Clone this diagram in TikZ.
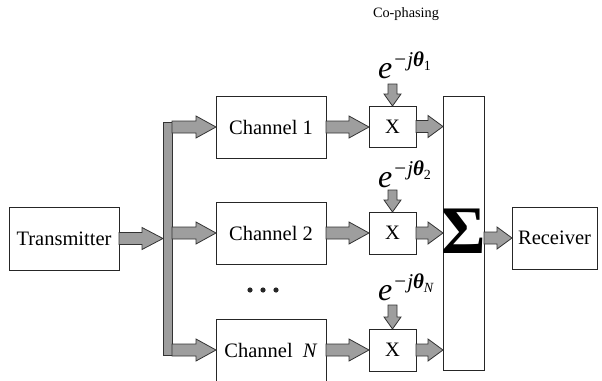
\documentclass[tikz,border=0pt]{standalone}
\usepackage{fontspec}
\setmainfont{Liberation Serif}
\usetikzlibrary{calc}
\newcommand\harr[3][20pt]{\draw[fatarr] let \p1=(#2), \p2=(#3) in (\x1,\y1+6pt) -- (\x2-#1,\y1+6pt) -- (\x2-#1,\y1+11pt) -- (\x2,\y1) -- (\x2-#1,\y1-11pt) -- (\x2-#1,\y1-6pt) -- (\x1,\y1-6pt) -- cycle;}
\newcommand\varr[2]{\draw[fatarr] let \p1=(#1), \p2=(#2) in (\x2-4.5pt,\y1) -- (\x2-4.5pt,\y2+12pt) -- (\x2-8.5pt,\y2+12pt) -- (\x2,\y2) -- (\x2+8.5pt,\y2+12pt) -- (\x2+4.5pt,\y2+12pt) -- (\x2+4.5pt,\y1) -- cycle;}
\newcommand\expo[1]{\fontsize{32}{32}\selectfont\textit{e}\kern2pt\raisebox{12pt}{\fontsize{21}{21}\selectfont −\kern1pt\textit{j}\textbf{\textit{θ}}\raisebox{-4pt}{\fontsize{14}{14}\selectfont #1}}}
\begin{document}
\begin{tikzpicture}[x=1pt,y=-1pt,
  box/.style={draw=black!85, line width=0.8pt, inner sep=0pt, outer sep=0pt, font=\fontsize{20.5}{24}\selectfont},
  fatarr/.style={draw=black!80, fill=black!38, line width=0.8pt, line join=miter},
  lbl/.style={inner sep=0pt, anchor=base west},
]
\useasboundingbox (0,0) rectangle (602,380);
% blocks
\node[box, minimum width=110pt, minimum height=63pt] (tx) at (64,238.5) {Transmitter};
\node[fatarr, inner sep=0pt, outer sep=0pt, minimum width=9pt, minimum height=233pt] (bus) at (167.5,238.5) {};
\node[box, minimum width=110pt, minimum height=62pt] (c1) at (271,127) {Channel 1};
\node[box, minimum width=110pt, minimum height=62pt] (c2) at (271,233) {Channel 2};
\node[box, minimum width=110pt, minimum height=62pt] (cN) at (271,350) {Channel\enspace\textit{N}};
\node[box, minimum width=47pt, minimum height=41pt] (x1) at (392.5,126.5) {X};
\node[box, minimum width=47pt, minimum height=42pt] (x2) at (392.5,233) {X};
\node[box, minimum width=47pt, minimum height=42pt] (xN) at (392.5,350) {X};
\node[box, minimum width=41pt, minimum height=274pt] (sum) at (463.5,233) {};
\node[inner sep=0pt, font=\fontsize{68}{68}\selectfont\bfseries] (sigma) at (463.5,231) {Σ};
\node[box, minimum width=85pt, minimum height=62pt] (rx) at (554.5,238) {Receiver};
% labels
\node[inner sep=0pt, font=\fontsize{14.3}{16}\selectfont] (cop) at (406,14) {Co-phasing};
\node[lbl] (e1) at (378,78) {\expo{1}};
\node[lbl] (e2) at (378,187) {\expo{2}};
\node[lbl] (eN) at (378,300) {\expo{\textit{N}}};
\coordinate (t1) at ($(x1.north)+(0,-22)$);
\coordinate (t2) at ($(x2.north)+(0,-22)$);
\coordinate (tN) at ($(xN.north)+(0,-24)$);
% dots
\foreach \dx in {250,263,276} \fill[black!85] (\dx,290) circle (2.6pt);
% connectors
\harr[21pt]{tx.east}{bus.west |- tx.east}
\harr{bus.east |- c1.west}{c1.west}
\harr{bus.east |- c2.west}{c2.west}
\harr{bus.east |- cN.west}{cN.west}
\harr{c1.east}{x1.west |- c1.east}
\harr{c2.east}{x2.west |- c2.east}
\harr{cN.east}{xN.west |- cN.east}
\harr[15pt]{x1.east}{sum.west |- x1.east}
\harr[15pt]{x2.east}{sum.west |- x2.east}
\harr[15pt]{xN.east}{sum.west |- xN.east}
\harr[15pt]{sum.east |- rx.west}{rx.west}
\varr{t1}{x1.north}
\varr{t2}{x2.north}
\varr{tN}{xN.north}
\end{tikzpicture}
\end{document}
